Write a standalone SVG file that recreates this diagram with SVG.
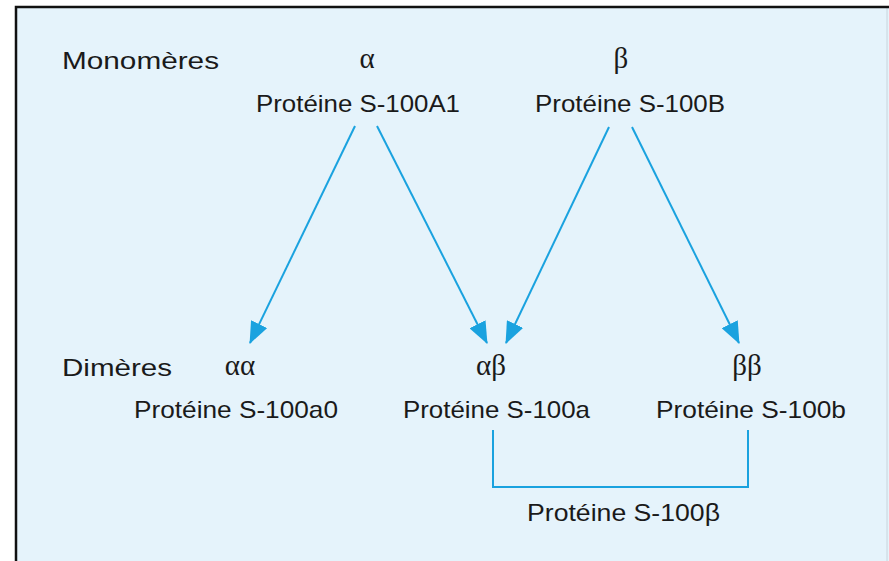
<svg xmlns="http://www.w3.org/2000/svg" width="889" height="561" viewBox="0 0 889 561">
<defs>
<style>
.t{font-family:"Liberation Sans",Arial,sans-serif;font-size:24px;fill:#1a1a1a}
.g{font-family:"Liberation Serif","Times New Roman",serif;font-size:29px;fill:#1a1a1a}
.c{stroke:#1aa2df;stroke-width:2;fill:none}
</style>
<marker id="ah" markerUnits="userSpaceOnUse" markerWidth="22" markerHeight="18" viewBox="0 0 22 18" refX="21" refY="9" orient="auto">
<path d="M0,0 L22,9 L0,18 z" fill="#1aa2df"/>
</marker>
</defs>
<rect x="0" y="0" width="889" height="561" fill="#ffffff"/>
<rect x="16" y="7" width="873" height="554" fill="#e5f3fb"/>
<line x1="887" y1="8" x2="887" y2="561" stroke="#c8d4dc" stroke-width="1"/>
<path d="M16,561 V7 H889" fill="none" stroke="#111" stroke-width="2.5"/>
<g id="labels">
<text class="t" x="62" y="69" textLength="157" lengthAdjust="spacingAndGlyphs">Monomères</text>
<text class="t" x="62" y="376" textLength="110" lengthAdjust="spacingAndGlyphs">Dimères</text>
</g>
<g id="node-alpha">
<text class="g" x="367" y="68" text-anchor="middle">α</text>
<text class="t" x="256" y="112" textLength="204" lengthAdjust="spacingAndGlyphs">Protéine S-100A1</text>
</g>
<g id="node-beta">
<text class="g" x="621" y="68" text-anchor="middle">β</text>
<text class="t" x="535" y="112" textLength="190" lengthAdjust="spacingAndGlyphs">Protéine S-100B</text>
</g>
<g id="node-aa">
<text class="g" x="240" y="375" text-anchor="middle">αα</text>
<text class="t" x="134" y="418" textLength="204" lengthAdjust="spacingAndGlyphs">Protéine S-100a0</text>
</g>
<g id="node-ab">
<text class="g" x="491" y="375" text-anchor="middle">αβ</text>
<text class="t" x="403" y="418" textLength="187" lengthAdjust="spacingAndGlyphs">Protéine S-100a</text>
</g>
<g id="node-bb">
<text class="g" x="747" y="375" text-anchor="middle">ββ</text>
<text class="t" x="656" y="418" textLength="190" lengthAdjust="spacingAndGlyphs">Protéine S-100b</text>
</g>
<g id="node-s100beta">
<text class="t" x="527" y="521" textLength="193" lengthAdjust="spacingAndGlyphs">Protéine S-100β</text>
</g>
<g id="connectors">
<line class="c" x1="355" y1="126" x2="250" y2="343" marker-end="url(#ah)"/>
<line class="c" x1="377" y1="126" x2="487" y2="343" marker-end="url(#ah)"/>
<line class="c" x1="609" y1="127" x2="506" y2="343" marker-end="url(#ah)"/>
<line class="c" x1="632" y1="127" x2="739" y2="343" marker-end="url(#ah)"/>
<path class="c" d="M493,430 V487 H748 V430"/>
</g>
</svg>
